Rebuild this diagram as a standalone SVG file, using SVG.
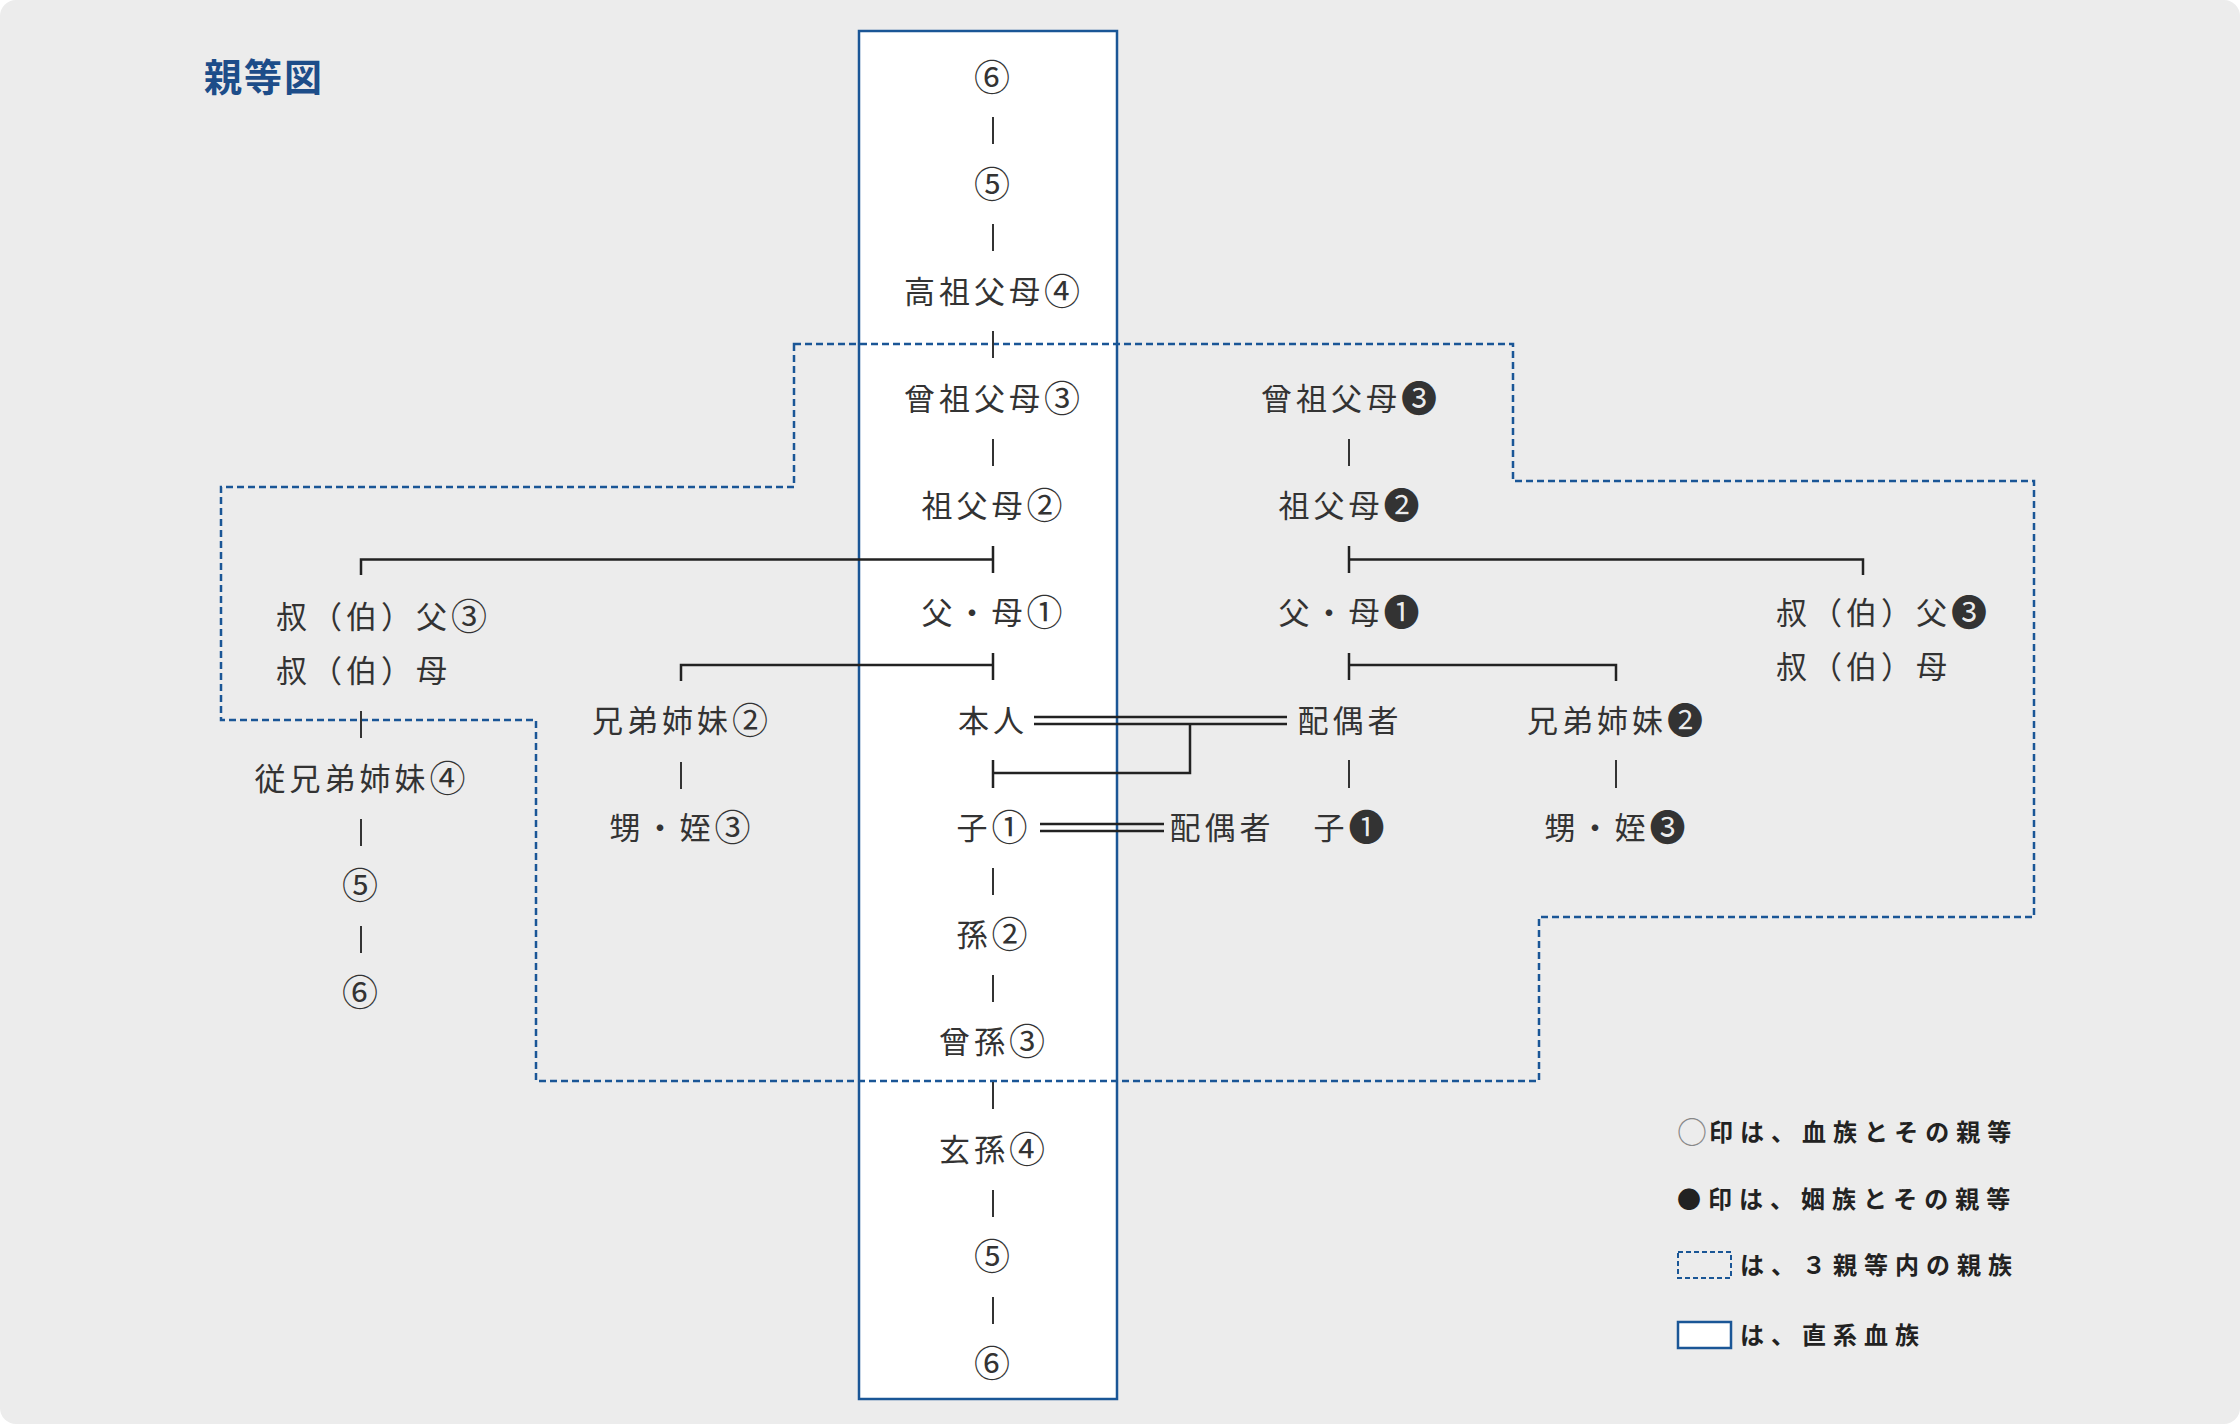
<svg xmlns="http://www.w3.org/2000/svg" width="2240" height="1424" viewBox="0 0 2240 1424">
<style>
.t{font-family:"Noto Sans CJK JP","Noto Sans CJK SC",sans-serif;font-size:31px;letter-spacing:4px;fill:#333;dominant-baseline:central;text-anchor:middle}
.s{text-anchor:start}
.n{font-size:36px;letter-spacing:2px}
.lg{font-family:"Noto Sans CJK JP","Noto Sans CJK SC",sans-serif;font-size:24px;font-weight:700;letter-spacing:7px;fill:#222;dominant-baseline:central}
.c{stroke:#222;stroke-width:2.5;fill:none}
.k{stroke:#333;stroke-width:2;fill:none}
.dl{stroke:#1a5696;stroke-width:2.5;fill:none;stroke-dasharray:7 4}
.bl{stroke:#1a5696;stroke-width:2.5;fill:#fff}
</style>
<rect x="0" y="0" width="2240" height="1424" fill="#fff"/>
<rect x="0" y="0" width="2240" height="1424" rx="16" fill="#ececec"/>
<text x="204" y="74" font-family="'Noto Sans CJK JP',sans-serif" font-size="38" font-weight="700" letter-spacing="2" fill="#1d4d89" dominant-baseline="central">親等図</text>
<rect id="direct-line" class="bl" x="859" y="31" width="258" height="1368"/>
<polygon id="third-degree" class="dl" points="794,344 1513,344 1513,481 2034,481 2034,917 1539,917 1539,1081 536,1081 536,720 221,720 221,487 794,487"/>
<g id="connectors">
<path class="k" d="M993,117V144M993,224V251M993,331V358M993,439V466M993,868V895M993,975V1002M993,1082V1109M993,1190V1217M993,1297V1324"/>
<path class="c" d="M993,546V573M993,559.5H361V575"/>
<path class="c" d="M993,653V680M993,665H681V681"/>
<path class="c" d="M993,760V788M993,773H1190V724"/>
<path class="c" d="M1034,717H1287M1034,724H1287"/>
<path class="c" d="M1040,824H1164M1040,831H1164"/>
<path class="k" d="M361,711V738M361,819V846M361,926V953M681,762V789"/>
<path class="k" d="M1349,439V466M1349,760V788M1616,760V788"/>
<path class="c" d="M1349,546V573M1349,559.5H1863V575"/>
<path class="c" d="M1349,653V680M1349,665H1616V681"/>
</g>
<g id="n-up6"><text class="t" x="993" y="75"><tspan class="n">⑥</tspan></text></g>
<g id="n-up5"><text class="t" x="993" y="182"><tspan class="n">⑤</tspan></text></g>
<g id="n-koso"><text class="t" x="993" y="289">高祖父母<tspan class="n">④</tspan></text></g>
<g id="n-soso"><text class="t" x="993" y="396">曾祖父母<tspan class="n">③</tspan></text></g>
<g id="n-sofubo"><text class="t" x="993" y="503">祖父母<tspan class="n">②</tspan></text></g>
<g id="n-fubo"><text class="t" x="993" y="610">父・母<tspan class="n">①</tspan></text></g>
<g id="n-honnin"><text class="t" x="993" y="718">本人</text></g>
<g id="n-ko"><text class="t" x="993" y="825">子<tspan class="n">①</tspan></text></g>
<g id="n-mago"><text class="t" x="993" y="932">孫<tspan class="n">②</tspan></text></g>
<g id="n-himago"><text class="t" x="993" y="1039">曾孫<tspan class="n">③</tspan></text></g>
<g id="n-genson"><text class="t" x="993" y="1147">玄孫<tspan class="n">④</tspan></text></g>
<g id="n-down5"><text class="t" x="993" y="1254"><tspan class="n">⑤</tspan></text></g>
<g id="n-down6"><text class="t" x="993" y="1361"><tspan class="n">⑥</tspan></text></g>
<g id="n-oji"><text class="t s" x="276" y="614">叔（伯）父<tspan class="n">③</tspan></text><text class="t s" x="276" y="668">叔（伯）母</text></g>
<g id="n-itoko"><text class="t" x="361" y="776">従兄弟姉妹<tspan class="n">④</tspan></text></g>
<g id="n-l5"><text class="t" x="361" y="883"><tspan class="n">⑤</tspan></text></g>
<g id="n-l6"><text class="t" x="361" y="990"><tspan class="n">⑥</tspan></text></g>
<g id="n-kyodai"><text class="t" x="681" y="718">兄弟姉妹<tspan class="n">②</tspan></text></g>
<g id="n-oi"><text class="t" x="681" y="825">甥・姪<tspan class="n">③</tspan></text></g>
<g id="n-r-soso"><text class="t" x="1350" y="396">曾祖父母<tspan class="n">❸</tspan></text></g>
<g id="n-r-sofubo"><text class="t" x="1350" y="503">祖父母<tspan class="n">❷</tspan></text></g>
<g id="n-r-fubo"><text class="t" x="1350" y="610">父・母<tspan class="n">❶</tspan></text></g>
<g id="n-haigusha"><text class="t" x="1350" y="718">配偶者</text></g>
<g id="n-r-ko"><text class="t" x="1350" y="825">子<tspan class="n">❶</tspan></text></g>
<g id="n-ko-haigusha"><text class="t" x="1222" y="825">配偶者</text></g>
<g id="n-r-kyodai"><text class="t" x="1616" y="718">兄弟姉妹<tspan class="n">❷</tspan></text></g>
<g id="n-r-oi"><text class="t" x="1616" y="825">甥・姪<tspan class="n">❸</tspan></text></g>
<g id="n-r-oji"><text class="t s" x="1776" y="610">叔（伯）父<tspan class="n">❸</tspan></text><text class="t s" x="1776" y="664">叔（伯）母</text></g>
<g id="legend">
<text class="lg" x="1677" y="1130"><tspan fill="#888" font-weight="400" font-size="30" letter-spacing="2">○</tspan>印は、血族とその親等</text>
<text class="lg" x="1677" y="1197">●印は、姻族とその親等</text>
<rect x="1678" y="1252" width="53" height="26" fill="none" stroke="#1a5696" stroke-width="2" stroke-dasharray="5 3"/>
<text class="lg" x="1740" y="1263">は、３親等内の親族</text>
<rect x="1678" y="1322" width="53" height="26" fill="#fff" stroke="#1a5696" stroke-width="2.5"/>
<text class="lg" x="1740" y="1333">は、直系血族</text>
</g>
</svg>
